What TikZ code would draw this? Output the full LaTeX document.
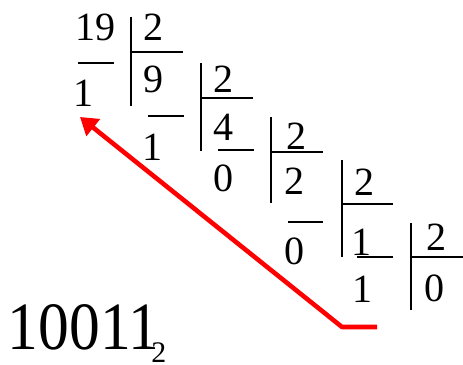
\documentclass[tikz,border=0pt]{standalone}
\usepackage{fontspec}
\setmainfont{Liberation Serif}
\usetikzlibrary{arrows.meta}

\begin{document}
\begin{tikzpicture}[
      digit/.style={inner sep=0pt,font=\fontsize{22.8}{24}\selectfont},
      result/.style={inner sep=0pt,anchor=base west,font=\fontsize{35}{36}\selectfont},
      bar/.style={line width=1pt},
      back/.style={draw=red,line width=2.6pt,line join=round,
        -{Triangle[length=0.34cm,width=0.42cm]}}
    ]
    \useasboundingbox (0,0) rectangle (9.26,7.3);

    % 19 : 2
    \node[digit] (n19) at (1.92,6.76) {19};
    \node[digit] (r1) at (1.68,5.44) {1};
    \node[digit] (d1) at (3.08,6.76) {2};
    \node[digit] (q1) at (3.08,5.72) {9};
    \draw[bar] (2.62,6.96)--(2.62,5.18);
    \draw[bar] (2.62,6.26)--(3.66,6.26);
    \draw[bar] (1.56,6.04)--(2.28,6.04);

    % 9 : 2
    \node[digit] (r2) at (3.06,4.36) {1};
    \node[digit] (d2) at (4.48,5.72) {2};
    \node[digit] (q2) at (4.48,4.76) {4};
    \draw[bar] (4.02,6.04)--(4.02,4.28);
    \draw[bar] (4.02,5.34)--(5.06,5.34);
    \draw[bar] (2.96,4.98)--(3.68,4.98);

    % 4 : 2
    \node[digit] (r3) at (4.48,3.74) {0};
    \node[digit] (d3) at (5.94,4.58) {2};
    \node[digit] (q3) at (5.90,3.68) {2};
    \draw[bar] (5.42,4.96)--(5.42,3.24);
    \draw[bar] (5.42,4.26)--(6.46,4.26);
    \draw[bar] (4.36,4.30)--(5.08,4.30);

    % 2 : 2
    \node[digit] (r4) at (5.90,2.28) {0};
    \node[digit] (d4) at (7.30,3.66) {2};
    \node[digit] (q4) at (7.24,2.46) {1};
    \draw[bar] (6.84,4.10)--(6.84,2.16);
    \draw[bar] (6.84,3.22)--(7.86,3.22);
    \draw[bar] (5.76,2.86)--(6.46,2.86);

    % 1 : 2
    \node[digit] (r5) at (7.26,1.52) {1};
    \node[digit] (d5) at (8.74,2.56) {2};
    \node[digit] (q5) at (8.70,1.54) {0};
    \draw[bar] (8.22,2.84)--(8.22,1.10);
    \draw[bar] (8.22,2.16)--(9.26,2.16);
    \draw[bar] (7.14,2.16)--(7.86,2.16);

    % read the remainders back
    \coordinate (start) at (7.54,0.76);
    \coordinate (bend) at (6.84,0.76);
    \coordinate (tip) at (1.60,4.96);
    \draw[back] (start)--(bend)--(tip);

    \node[result] (bin) at (0.15,0.30)
      {\scalebox{1}[1.1]{10011}\kern-0.16cm\raisebox{-0.26cm}{\fontsize{17}{17}\selectfont 2}};
  \end{tikzpicture}
\end{document}
